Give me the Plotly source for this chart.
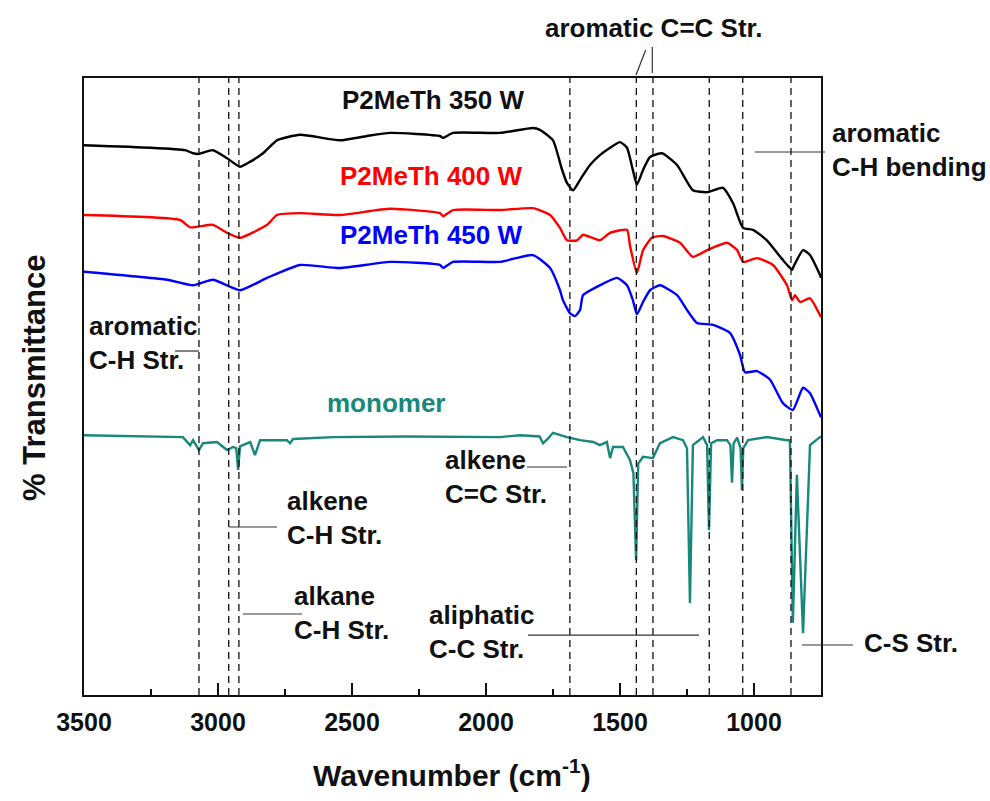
import plotly.graph_objects as go

# ---------------- data (wavenumber in cm-1, transmittance in arbitrary offset units) ----------------
wn_350 = [3500, 3254, 3123, 3093, 3071, 3019, 2966, 2918, 2881, 2832, 2780, 2694, 2545, 2444, 2358,
          2172, 2160, 2123, 1948, 1825, 1799, 1750, 1716, 1698, 1675, 1649, 1612, 1575, 1537, 1500,
          1474, 1452, 1437, 1414, 1388, 1343, 1287, 1228, 1175, 1116, 1078, 1041, 1004, 952, 892,
          858, 855, 817, 791, 754, 750]
t_350 = [89.1, 88.7, 88.3, 87.8, 87.7, 88.3, 87.0, 85.6, 86.4, 87.8, 89.9, 90.8, 89.9, 90.6, 91.1,
         90.6, 90.3, 91.1, 91.1, 91.9, 91.6, 89.9, 85.1, 83.0, 81.8, 83.5, 85.9, 87.5, 88.7, 89.6,
         88.7, 85.1, 82.7, 85.1, 87.2, 87.8, 85.9, 81.8, 81.5, 82.2, 79.7, 75.7, 75.4, 73.7, 70.5,
         68.9, 69.2, 72.1, 71.3, 68.1, 67.6]

wn_400 = [3500, 3142, 3104, 3019, 2966, 2918, 2817, 2780, 2694, 2545, 2358, 2172, 2160, 2123, 1948,
          1825, 1761, 1724, 1698, 1660, 1638, 1575, 1537, 1474, 1463, 1437, 1414, 1381, 1340, 1276,
          1228, 1175, 1101, 1063, 1041, 989, 929, 877, 858, 847, 828, 791, 754, 750]
t_400 = [77.8, 77.0, 75.8, 76.2, 74.9, 74.1, 76.2, 77.8, 78.1, 77.8, 78.8, 78.1, 77.6, 78.6, 78.6,
         78.9, 77.8, 75.7, 73.7, 73.7, 74.6, 73.7, 74.9, 75.4, 72.9, 68.4, 72.1, 74.1, 74.4, 73.3,
         71.0, 72.1, 73.3, 72.1, 70.2, 70.8, 69.7, 66.4, 64.0, 64.8, 63.7, 64.3, 61.6, 61.2]

wn_450 = [3500, 3190, 3093, 3019, 2918, 2817, 2694, 2545, 2358, 2172, 2160, 2123, 1948, 1825, 1761,
          1724, 1713, 1687, 1668, 1649, 1638, 1575, 1511, 1474, 1452, 1437, 1414, 1388, 1351, 1287,
          1250, 1213, 1153, 1090, 1052, 1034, 989, 940, 892, 855, 817, 791, 754, 750]
t_450 = [68.6, 67.3, 66.4, 67.3, 65.6, 67.6, 69.7, 69.2, 70.2, 69.7, 69.2, 70.2, 70.2, 71.3, 69.2,
         65.6, 64.0, 61.9, 61.4, 62.4, 64.8, 66.4, 67.6, 66.4, 64.0, 61.7, 63.7, 65.6, 66.4, 64.8,
         62.4, 60.3, 60.0, 58.7, 55.1, 52.3, 52.5, 51.1, 47.3, 46.2, 49.8, 48.9, 45.4, 45.0]

wn_mono = [3500, 3300, 3131, 3104, 3093, 3071, 3056, 3004, 2966, 2944, 2932, 2925, 2918, 2907, 2880,
           2862, 2843, 2743, 2731, 2720, 2571, 2300, 2100, 1948, 1873, 1800, 1787, 1770, 1750, 1698,
           1649, 1600, 1575, 1549, 1537, 1526, 1489, 1463, 1450, 1440, 1432, 1414, 1377, 1351, 1302,
           1265, 1250, 1239, 1228, 1190, 1175, 1168, 1160, 1138, 1101, 1088, 1082, 1076, 1063, 1050,
           1045, 1040, 1022, 952, 877, 866, 855, 840, 817, 791, 754, 750]
t_mono = [42.1, 42.0, 41.8, 40.5, 41.3, 39.7, 40.8, 41.0, 39.7, 40.2, 40.0, 36.5, 40.3, 40.5, 41.0,
          38.9, 41.3, 41.3, 40.8, 41.5, 41.8, 41.9, 41.8, 41.8, 42.1, 41.9, 40.8, 41.5, 42.5, 41.8,
          41.3, 41.0, 40.5, 41.0, 38.4, 40.2, 40.2, 38.1, 36.0, 21.9, 37.5, 38.6, 38.4, 40.8, 41.8,
          41.3, 40.0, 14.9, 40.5, 41.8, 40.5, 26.7, 40.8, 41.3, 41.3, 40.5, 34.4, 40.8, 41.7, 40.0,
          33.2, 40.0, 41.3, 41.8, 41.3, 41.3, 11.7, 35.7, 10.0, 40.5, 41.8, 41.8]

band_positions = [3071, 2960, 2922, 1687, 1439, 1377, 1167, 1042, 862]
tick_values = [3500, 3000, 2500, 2000, 1500, 1000]
tick_labels = ["3500", "3000", "2500", "2000", "1500", "1000"]

FONT = "Liberation Sans, Arial, sans-serif"
TEAL = "#17887a"

fig = go.Figure()
for wn, t, col, shape in [(wn_350, t_350, "#000000", "spline"), (wn_400, t_400, "#ff0000", "spline"),
                          (wn_450, t_450, "#0000ff", "spline"), (wn_mono, t_mono, TEAL, "linear")]:
    line = dict(color=col, width=2.4, shape=shape)
    if shape == "spline":
        line["smoothing"] = 0.5
    fig.add_trace(go.Scatter(x=wn, y=t, mode="lines", line=line,
                             showlegend=False, hoverinfo="skip"))

shapes = []
for b in band_positions:
    shapes.append(dict(type="line", xref="x", yref="paper", x0=b, x1=b, y0=0, y1=1,
                       line=dict(color="#111111", width=1.3, dash="7px,5px")))

# annotation leader lines (paper coords)
leaders = [
    (0.7490, 1.0049, 0.7621, 1.0454),
    (0.7711, 1.0081, 0.7711, 1.0502),
    (0.9104, 0.8801, 1.0054, 0.8801),
    (0.1235, 0.5575, 0.1560, 0.5575),
    (0.6011, 0.3695, 0.6554, 0.3695),
    (0.1967, 0.2723, 0.2619, 0.2723),
    (0.2157, 0.1313, 0.2958, 0.1313),
    (0.6024, 0.0972, 0.8345, 0.0972),
    (0.9742, 0.0810, 1.0434, 0.0810),
]
for x0, y0, x1, y1 in leaders:
    shapes.append(dict(type="line", xref="paper", yref="paper", x0=x0, y0=y0, x1=x1, y1=y1,
                       line=dict(color="#333333", width=1.2)))

def txt(text, x, y, color="#111111", size=26, xanchor="left", angle=0):
    return dict(text=text, x=x, y=y, xref="paper", yref="paper", showarrow=False,
                xanchor=xanchor, yanchor="middle", textangle=angle, align="left",
                font=dict(family=FONT, size=size, color=color, weight="bold"))

annotations = [
    txt("aromatic C=C Str.", 0.7734, 1.081, xanchor="center"),
    txt("P2MeTh 350 W", 0.3474, 0.9643),
    txt("P2MeTh 400 W", 0.3446, 0.8412, color="#ff0000"),
    txt("P2MeTh 450 W", 0.3446, 0.7455, color="#0000ff"),
    txt("aromatic<br>C-H bending", 1.0122, 0.8833),
    txt("aromatic<br>C-H Str.", 0.0041, 0.5697),
    txt("monomer", 0.3270, 0.4733, color=TEAL),
    txt("alkene<br>C=C Str.", 0.4871, 0.3541),
    txt("alkene<br>C-H Str.", 0.2727, 0.2861),
    txt("alkane<br>C-H Str.", 0.2822, 0.1321),
    txt("aliphatic<br>C-C Str.", 0.4654, 0.1029),
    txt("C-S Str.", 1.0556, 0.0843),
    txt("Wavenumber (cm<sup>-1</sup>)", 0.4993, -0.1264, size=30, xanchor="center"),
    txt("% Transmittance", -0.0665, 0.5138, size=31, xanchor="center", angle=-90),
]

fig.update_layout(
    width=990, height=801,
    margin=dict(l=84, r=169, t=78, b=106),
    paper_bgcolor="white", plot_bgcolor="white",
    shapes=shapes, annotations=annotations,
    xaxis=dict(range=[3500, 750], showgrid=False, zeroline=False,
               showline=True, mirror=True, linecolor="#111111", linewidth=2,
               ticks="inside", ticklen=12, tickwidth=2, tickcolor="#111111",
               tickvals=tick_values, ticktext=tick_labels, ticklabelstandoff=4,
               tickfont=dict(family=FONT, size=25, color="#111111", weight="bold"),
               minor=dict(ticks="inside", ticklen=6, tickwidth=2, tickcolor="#111111", dtick=250,
                          tick0=3500, showgrid=False)),
    yaxis=dict(range=[0, 100], showgrid=False, zeroline=False, showticklabels=False,
               showline=True, mirror=True, linecolor="#111111", linewidth=2, ticks=""),
)

fig.write_html("out.html")
